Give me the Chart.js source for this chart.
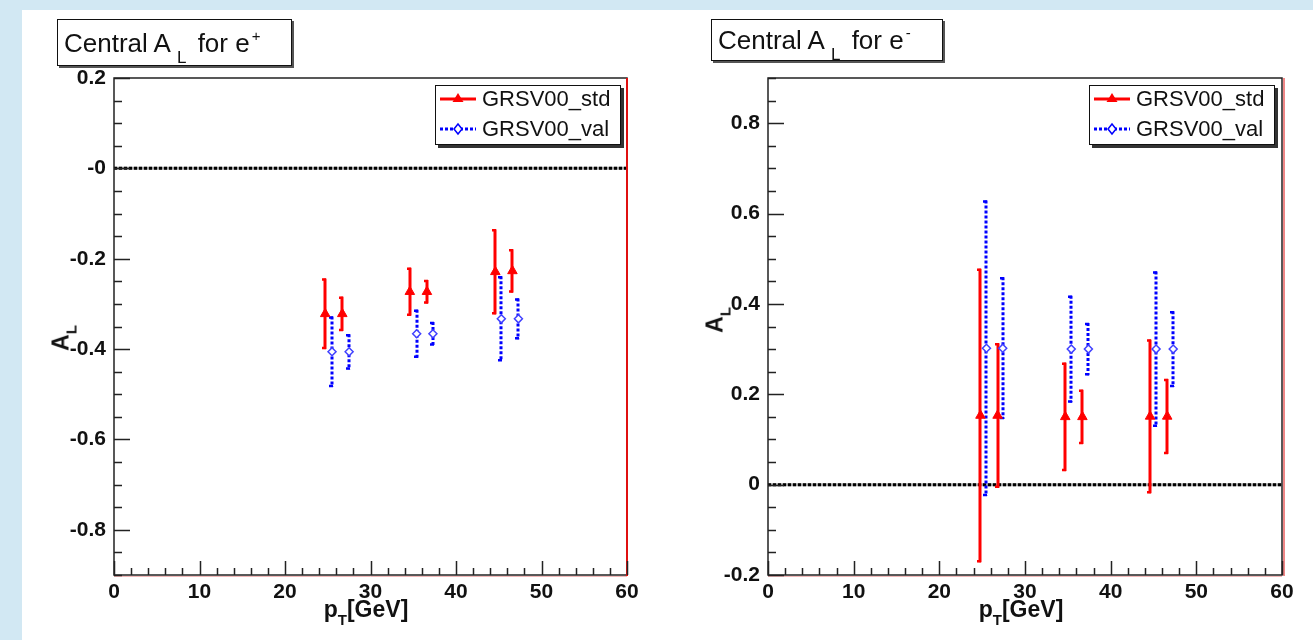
<!DOCTYPE html>
<html><head><meta charset="utf-8">
<script src="https://cdn.jsdelivr.net/npm/chart.js@4.4.1/dist/chart.umd.min.js"></script>
<style>
html,body{margin:0;padding:0;}
body{width:1313px;height:640px;position:relative;background:#fff;overflow:hidden;font-family:'Liberation Sans',Arial,Helvetica,sans-serif;color:#111;}
.band{position:absolute;background:#d2e8f3;}
canvas{position:absolute;top:0;}
.tbox{position:absolute;top:19px;border:1.5px solid #111;box-shadow:2px 2px 0 #555;background:#fff;font-size:26px;line-height:26px;box-sizing:border-box;white-space:nowrap;}
.tbox .txt{position:absolute;left:6px;}
.tsub{position:relative;font-size:17px;top:11px;margin-left:6px;margin-right:4px;}
.tsup{position:relative;font-size:15px;top:-11px;margin-left:2px;}
.leg{position:absolute;top:85px;width:186px;height:60px;border:1.5px solid #111;box-shadow:3px 3px 0 #333;background:#fff;box-sizing:border-box;}
.leg .row{position:absolute;left:4px;height:22px;line-height:22px;font-size:22px;white-space:nowrap;}
.leg svg{position:absolute;left:0;top:0;}
.leg .lab{position:absolute;left:42px;top:0;}
.atitle{position:absolute;font-weight:bold;font-size:23px;line-height:24px;white-space:nowrap;transform:translate(-50%,-50%);}
.atitle.rot{transform:translate(-50%,-50%) rotate(-90deg);}
.asub{position:relative;font-size:15px;top:8px;}
</style>
</head>
<body>
<div class="band" style="left:0;top:0;width:1313px;height:10px;"></div>
<div class="band" style="left:0;top:0;width:22px;height:640px;"></div>

<canvas id="cL" width="656" height="640" style="left:0;"></canvas>
<canvas id="cR" width="657" height="640" style="left:656px;"></canvas>

<div class="tbox" style="left:57px;width:235px;height:47px;"><span class="txt" style="top:10px;">Central A<span class="tsub">L</span> for e<span class="tsup">+</span></span></div>
<div class="tbox" style="left:711px;width:232px;height:42px;"><span class="txt" style="top:7px;">Central A<span class="tsub">L</span> for e<span class="tsup">-</span></span></div>

<div class="leg" style="left:435px;">
  <div class="row" style="top:2px;"><svg width="36" height="22"><line x1="0" y1="11" x2="36" y2="11" stroke="#ff0000" stroke-width="3"/><polygon points="18,5 23.5,14 12.5,14" fill="#ff0000"/></svg><span class="lab">GRSV00_std</span></div>
  <div class="row" style="top:32px;"><svg width="36" height="22"><line x1="0" y1="11" x2="36" y2="11" stroke="#0000ff" stroke-width="3" stroke-dasharray="3,2"/><polygon points="18,6 22,11 18,16 14,11" fill="#fff" stroke="#0000ff" stroke-width="1.5"/></svg><span class="lab">GRSV00_val</span></div>
</div>
<div class="leg" style="left:1089px;">
  <div class="row" style="top:2px;"><svg width="36" height="22"><line x1="0" y1="11" x2="36" y2="11" stroke="#ff0000" stroke-width="3"/><polygon points="18,5 23.5,14 12.5,14" fill="#ff0000"/></svg><span class="lab">GRSV00_std</span></div>
  <div class="row" style="top:32px;"><svg width="36" height="22"><line x1="0" y1="11" x2="36" y2="11" stroke="#0000ff" stroke-width="3" stroke-dasharray="3,2"/><polygon points="18,6 22,11 18,16 14,11" fill="#fff" stroke="#0000ff" stroke-width="1.5"/></svg><span class="lab">GRSV00_val</span></div>
</div>

<div class="atitle rot" style="left:62px;top:338px;">A<span class="asub">L</span></div>
<div class="atitle rot" style="left:716px;top:320px;">A<span class="asub">L</span></div>
<div class="atitle" style="left:366px;top:610px;">p<span class="asub">T</span>[GeV]</div>
<div class="atitle" style="left:1021px;top:610px;">p<span class="asub">T</span>[GeV]</div>

<script>
// ---- data ----
const xTickLabels = ['0','10','20','30','40','50','60'];

const leftYTickValues = [0.2, 0, -0.2, -0.4, -0.6, -0.8];
const leftYTickLabels = ['0.2', '-0', '-0.2', '-0.4', '-0.6', '-0.8'];
const rightYTickValues = [0.8, 0.6, 0.4, 0.2, 0, -0.2];
const rightYTickLabels = ['0.8', '0.6', '0.4', '0.2', '0', '-0.2'];

// Central A_L for e+
const ePlusStdPt  = [24.7, 26.7, 34.6, 36.6, 44.6, 46.6];
const ePlusStdAL  = [-0.322, -0.322, -0.273, -0.273, -0.229, -0.227];
const ePlusStdErr = [0.078, 0.038, 0.053, 0.026, 0.094, 0.048];
const ePlusValPt  = [25.5, 27.5, 35.4, 37.3, 45.3, 47.3];
const ePlusValAL  = [-0.406, -0.406, -0.366, -0.366, -0.333, -0.333];
const ePlusValErr = [0.078, 0.039, 0.053, 0.026, 0.094, 0.045];

// Central A_L for e-
const eMinusStdPt  = [24.8, 26.8, 34.7, 36.7, 44.6, 46.6];
const eMinusStdAL  = [0.153, 0.153, 0.150, 0.150, 0.151, 0.151];
const eMinusStdErr = [0.325, 0.160, 0.120, 0.060, 0.170, 0.083];
const eMinusValPt  = [25.5, 27.4, 35.4, 37.4, 45.3, 47.3];
const eMinusValAL  = [0.302, 0.302, 0.300, 0.300, 0.300, 0.300];
const eMinusValErr = [0.327, 0.157, 0.118, 0.058, 0.172, 0.084];

// ---- drawing ----
const FONT = "'Liberation Sans', Arial, Helvetica, sans-serif";

const rootPlugin = {
  id: 'rootStyle',
  beforeDatasetsDraw(chart) {
    const {ctx, chartArea: a, scales: {x, y}} = chart;
    ctx.save();
    const y0 = y.getPixelForValue(0);
    ctx.lineWidth = 3;
    ctx.strokeStyle = '#a0a0a0';
    ctx.beginPath(); ctx.moveTo(a.left, y0); ctx.lineTo(a.right, y0); ctx.stroke();
    ctx.setLineDash([3, 2]);
    ctx.strokeStyle = '#000';
    ctx.beginPath(); ctx.moveTo(a.left, y0); ctx.lineTo(a.right, y0); ctx.stroke();
    chart.data.datasets.forEach((ds, i) => {
      const meta = chart.getDatasetMeta(i);
      meta.data.forEach((pt, j) => {
        const v = ds.data[j].y, e = ds.errors[j];
        const top = y.getPixelForValue(v + e), bot = y.getPixelForValue(v - e);
        const px = Math.round(pt.x);
        ctx.strokeStyle = ds.errColor;
        ctx.lineWidth = 3;
        ctx.setLineDash(ds.errDash);
        ctx.beginPath(); ctx.moveTo(px, top); ctx.lineTo(px, bot); ctx.stroke();
        ctx.setLineDash([]);
        ctx.lineWidth = 2.5;
        ctx.beginPath();
        ctx.moveTo(px - 3, top + 1); ctx.lineTo(px + 1, top + 1);
        ctx.moveTo(px - 3, bot - 1); ctx.lineTo(px + 1, bot - 1);
        ctx.stroke();
      });
    });
    ctx.restore();
  },
  afterDraw(chart, args, opts) {
    const {ctx, chartArea: a, scales: {x, y}} = chart;
    ctx.save();
    ctx.strokeStyle = '#222';
    ctx.lineWidth = 1.5;
    ctx.strokeRect(a.left, a.top, a.right - a.left, a.bottom - a.top);
    ctx.strokeStyle = '#f2b8b8';
    ctx.lineWidth = 1;
    ctx.beginPath(); ctx.moveTo(a.left, a.bottom + 1.5); ctx.lineTo(a.right, a.bottom + 1.5); ctx.stroke();
    ctx.strokeStyle = '#e01010';
    ctx.lineWidth = opts.redWidth;
    ctx.beginPath(); ctx.moveTo(a.right + opts.redOffset, a.top); ctx.lineTo(a.right + opts.redOffset, a.bottom + 1); ctx.stroke();
    ctx.strokeStyle = '#222';
    ctx.lineWidth = 1.5;
    ctx.beginPath();
    for (let v = x.min; v <= x.max; v += 2) {
      const px = Math.round(x.getPixelForValue(v)) + 0.5;
      const len = (v % 10 === 0) ? 14 : 7;
      ctx.moveTo(px, a.bottom); ctx.lineTo(px, a.bottom - len);
    }
    const k0 = Math.ceil(y.min / 0.05 - 1e-6), k1 = Math.floor(y.max / 0.05 + 1e-6);
    for (let k = k0; k <= k1; k++) {
      const py = Math.round(y.getPixelForValue(k * 0.05)) + 0.5;
      const len = (k % 4 === 0) ? 16 : 8;
      ctx.moveTo(a.left, py); ctx.lineTo(a.left + len, py);
    }
    ctx.stroke();
    ctx.restore();
  }
};

function makeChart(id, cfg) {
  const pts = (xs, ys) => xs.map((v, i) => ({x: v, y: ys[i]}));
  return new Chart(document.getElementById(id), {
    type: 'scatter',
    data: {
      datasets: [
        {
          label: 'GRSV00_std',
          data: pts(cfg.stdPt, cfg.stdAL),
          errors: cfg.stdErr,
          errColor: '#ff0000',
          errDash: [],
          pointStyle: 'triangle',
          pointRadius: 5.5,
          backgroundColor: '#ff0000',
          borderColor: '#ff0000',
          borderWidth: 1,
          showLine: false
        },
        {
          label: 'GRSV00_val',
          data: pts(cfg.valPt, cfg.valAL),
          errors: cfg.valErr,
          errColor: '#0000ff',
          errDash: [3, 2],
          pointStyle: 'rectRot',
          pointRadius: 4,
          backgroundColor: '#ffffff',
          borderColor: '#4040ff',
          borderWidth: 1.5,
          showLine: false
        }
      ]
    },
    options: {
      responsive: false,
      animation: false,
      events: [],
      layout: {padding: {left: 0, top: 78, right: cfg.padRight, bottom: 0}},
      plugins: {
        legend: {display: false},
        tooltip: {enabled: false},
        rootStyle: {redWidth: cfg.redWidth, redOffset: cfg.redOffset}
      },
      scales: {
        x: {
          type: 'linear', min: 0, max: 60,
          grid: {display: false, drawTicks: false},
          border: {display: false},
          afterBuildTicks: (s) => { s.ticks = xTickLabels.map(t => ({value: Number(t)})); },
          ticks: {
            autoSkip: false, maxRotation: 0, padding: 5, color: '#111',
            font: {family: FONT, size: 21, weight: 'bold'},
            callback: (v) => xTickLabels[xTickLabels.indexOf(String(v))]
          },
          afterFit: (s) => { s.height = 65; }
        },
        y: {
          type: 'linear', min: cfg.yMin, max: cfg.yMax,
          grid: {display: false, drawTicks: false},
          border: {display: false},
          afterBuildTicks: (s) => { s.ticks = cfg.yVals.map(v => ({value: v})); },
          ticks: {
            autoSkip: false, padding: 8, color: '#111',
            font: {family: FONT, size: 21, weight: 'bold'},
            callback: (v) => cfg.yLabels[cfg.yVals.indexOf(v)]
          },
          afterFit: (s) => { s.width = cfg.yWidth; }
        }
      }
    },
    plugins: [rootPlugin]
  });
}

makeChart('cL', {
  stdPt: ePlusStdPt, stdAL: ePlusStdAL, stdErr: ePlusStdErr,
  valPt: ePlusValPt, valAL: ePlusValAL, valErr: ePlusValErr,
  yMin: -0.9, yMax: 0.2, yVals: leftYTickValues, yLabels: leftYTickLabels,
  yWidth: 114, padRight: 29, redWidth: 2, redOffset: 0
});
makeChart('cR', {
  stdPt: eMinusStdPt, stdAL: eMinusStdAL, stdErr: eMinusStdErr,
  valPt: eMinusValPt, valAL: eMinusValAL, valErr: eMinusValErr,
  yMin: -0.2, yMax: 0.9, yVals: rightYTickValues, yLabels: rightYTickLabels,
  yWidth: 112, padRight: 31, redWidth: 1, redOffset: 2
});
</script>
</body></html>
